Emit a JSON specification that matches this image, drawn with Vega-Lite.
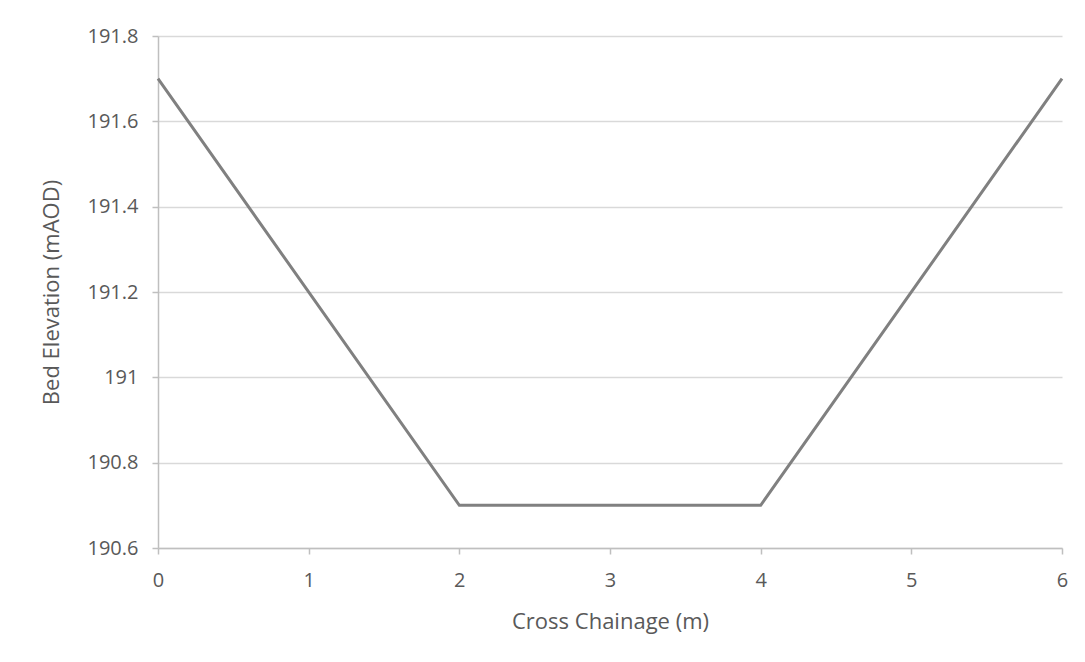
{
  "$schema": "https://vega.github.io/schema/vega-lite/v6.json",
  "width": 904,
  "height": 512,
  "autosize": {"type": "none"},
  "padding": {"left": 158, "top": 36, "right": 23, "bottom": 114},
  "background": "white",
  "config": {
    "view": {"stroke": null},
    "font": "Open Sans"
  },
  "data": {
    "values": [
      {"chainage": 0, "elevation": 191.7},
      {"chainage": 2, "elevation": 190.7},
      {"chainage": 4, "elevation": 190.7},
      {"chainage": 6, "elevation": 191.7}
    ]
  },
  "mark": {"type": "line", "color": "#808080", "strokeWidth": 3},
  "encoding": {
    "x": {
      "field": "chainage",
      "type": "quantitative",
      "scale": {"domain": [0, 6], "nice": false, "zero": false},
      "axis": {
        "title": "Cross Chainage (m)",
        "values": [0, 1, 2, 3, 4, 5, 6],
        "format": "~f",
        "grid": false,
        "labelFlush": false,
        "labelOverlap": false,
        "domainColor": "#bfbfbf",
        "domainWidth": 1.5,
        "tickColor": "#bfbfbf",
        "tickSize": 6,
        "tickWidth": 1.5,
        "labelFont": "Open Sans",
        "labelFontSize": 20,
        "labelColor": "#595959",
        "labelPadding": 16,
        "titleFont": "Open Sans",
        "titleFontSize": 22,
        "titleFontWeight": "normal",
        "titleColor": "#595959",
        "titlePadding": 21
      }
    },
    "y": {
      "field": "elevation",
      "type": "quantitative",
      "scale": {"domain": [190.6, 191.8], "nice": false, "zero": false},
      "axis": {
        "title": "Bed Elevation (mAOD)",
        "values": [190.6, 190.8, 191, 191.2, 191.4, 191.6, 191.8],
        "format": "~f",
        "grid": true,
        "labelFlush": false,
        "labelOverlap": false,
        "gridColor": "#d9d9d9",
        "gridWidth": 1.5,
        "domainColor": "#bfbfbf",
        "domainWidth": 1.5,
        "tickColor": "#bfbfbf",
        "tickSize": 6,
        "tickWidth": 1.5,
        "labelFont": "Open Sans",
        "labelFontSize": 20,
        "labelColor": "#595959",
        "labelPadding": 14,
        "titleFont": "Open Sans",
        "titleFontSize": 22,
        "titleFontWeight": "normal",
        "titleColor": "#595959",
        "titlePadding": 24
      }
    }
  }
}
